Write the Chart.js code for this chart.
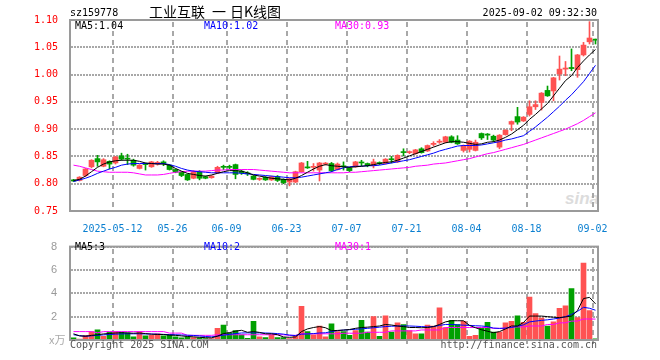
<!DOCTYPE html>
<html>
<head>
<meta charset="utf-8">
<script src="https://cdn.jsdelivr.net/npm/chart.js@4.4.0/dist/chart.umd.min.js"></script>
<style>
  body { margin: 0; background: #fff; }
  #wrap { position: relative; width: 660px; height: 360px; overflow: hidden;
          font-family: 'DejaVu Sans Mono', monospace; font-size: 10px; }
  .t { position: absolute; white-space: pre; line-height: 10px; z-index: 2; }
  .cjk { font-family: 'Noto Sans CJK SC'; font-size: 14px; line-height: 14px; }
  canvas { position: absolute; left: 0; z-index: 1; }
  #logo { position: absolute; left: 565px; top: 189px; z-index: 0; color: #dcdcdc;
          font: italic bold 17px 'Liberation Sans'; }
</style>
</head>
<body>
<div id="wrap">
  <div id="logo">sina</div>

  <div class="t" style="left:70px;top:8px">sz159778</div>
  <div class="t cjk" style="left:149px;top:4px">工业互联</div>
  <div class="t cjk" style="left:212px;top:4px">一</div>
  <div class="t cjk" style="left:230px;top:4px">日K线图</div>
  <div class="t" style="right:63px;top:8px">2025-09-02 09:32:30</div>

  <div class="t" style="left:75px;top:21px">MA5:1.04</div>
  <div class="t" style="left:204px;top:21px;color:#0000ff">MA10:1.02</div>
  <div class="t" style="left:335px;top:21px;color:#ff00ff">MA30:0.93</div>

  <div class="t" style="left:75px;top:242px">MA5:3</div>
  <div class="t" style="left:204px;top:242px;color:#0000ff">MA10:2</div>
  <div class="t" style="left:335px;top:242px;color:#ff00ff">MA30:1</div>

  <div class="t" style="left:49px;top:333px;color:#aaa;font:11px 'Noto Sans CJK SC';line-height:13px">x万</div>
  <div class="t" style="left:70px;top:340px;color:#555">Copyright 2025 SINA.COM</div>
  <div class="t" style="right:63px;top:340px;color:#555">http://finance.sina.com.cn</div>

  <canvas id="kline" width="660" height="235" style="top:0"></canvas>
  <canvas id="volume" width="660" height="125" style="top:235px"></canvas>
</div>

<script>
const tradeDates = [
  '2025-04-28','2025-04-29','2025-04-30','2025-05-06','2025-05-07','2025-05-08','2025-05-09','2025-05-12','2025-05-13','2025-05-14',
  '2025-05-15','2025-05-16','2025-05-19','2025-05-20','2025-05-21','2025-05-22','2025-05-23','2025-05-26','2025-05-27','2025-05-28',
  '2025-05-29','2025-05-30','2025-06-03','2025-06-04','2025-06-05','2025-06-06','2025-06-09','2025-06-10','2025-06-11','2025-06-12',
  '2025-06-13','2025-06-16','2025-06-17','2025-06-18','2025-06-19','2025-06-20','2025-06-23','2025-06-24','2025-06-25','2025-06-26',
  '2025-06-27','2025-06-30','2025-07-01','2025-07-02','2025-07-03','2025-07-04','2025-07-07','2025-07-08','2025-07-09','2025-07-10',
  '2025-07-11','2025-07-14','2025-07-15','2025-07-16','2025-07-17','2025-07-18','2025-07-21','2025-07-22','2025-07-23','2025-07-24',
  '2025-07-25','2025-07-28','2025-07-29','2025-07-30','2025-07-31','2025-08-01','2025-08-04','2025-08-05','2025-08-06','2025-08-07',
  '2025-08-08','2025-08-11','2025-08-12','2025-08-13','2025-08-14','2025-08-15','2025-08-18','2025-08-19','2025-08-20','2025-08-21',
  '2025-08-22','2025-08-25','2025-08-26','2025-08-27','2025-08-28','2025-08-29','2025-09-01','2025-09-02'
];

const tickDates = ['2025-05-12','2025-05-26','2025-06-09','2025-06-23','2025-07-07','2025-07-21','2025-08-04','2025-08-18','2025-09-02'];
const tickLabels = ['2025-05-12','05-26','06-09','06-23','07-07','07-21','08-04','08-18','09-02'];

const opens = [
  0.807,0.806,0.815,0.831,0.846,0.832,0.841,0.838,0.851,0.846,
  0.843,0.828,0.837,0.831,0.836,0.840,0.834,0.826,0.821,0.817,
  0.810,0.822,0.813,0.811,0.820,0.831,0.831,0.835,0.823,0.819,
  0.814,0.808,0.812,0.807,0.813,0.808,0.803,0.803,0.822,0.830,
  0.830,0.825,0.836,0.837,0.826,0.832,0.829,0.831,0.839,0.837,
  0.833,0.838,0.837,0.845,0.840,0.858,0.857,0.855,0.864,0.860,
  0.872,0.876,0.876,0.886,0.880,0.861,0.863,0.861,0.892,0.891,
  0.887,0.867,0.890,0.909,0.923,0.915,0.927,0.941,0.949,0.971,
  0.970,1.001,1.010,1.013,1.009,1.036,1.060,1.065
];
const highs = [
  0.808,0.813,0.828,0.844,0.852,0.846,0.842,0.850,0.856,0.854,
  0.845,0.835,0.838,0.841,0.841,0.842,0.835,0.827,0.822,0.818,
  0.824,0.824,0.814,0.815,0.832,0.834,0.834,0.836,0.825,0.822,
  0.815,0.811,0.813,0.814,0.815,0.809,0.810,0.823,0.839,0.841,
  0.837,0.839,0.839,0.839,0.838,0.840,0.830,0.841,0.843,0.838,
  0.845,0.840,0.846,0.850,0.853,0.864,0.860,0.863,0.866,0.871,
  0.877,0.881,0.887,0.888,0.888,0.871,0.879,0.880,0.893,0.892,
  0.889,0.890,0.899,0.915,0.940,0.923,0.952,0.952,0.967,0.979,
  0.995,1.034,1.024,1.047,1.037,1.059,1.097,1.065
];
const lows = [
  0.804,0.805,0.813,0.829,0.832,0.831,0.827,0.836,0.843,0.835,
  0.832,0.827,0.825,0.830,0.834,0.833,0.825,0.820,0.813,0.806,
  0.809,0.807,0.809,0.810,0.819,0.826,0.827,0.809,0.817,0.815,
  0.807,0.806,0.806,0.806,0.804,0.800,0.796,0.802,0.821,0.828,
  0.823,0.805,0.834,0.822,0.825,0.825,0.822,0.830,0.833,0.831,
  0.829,0.835,0.836,0.838,0.839,0.851,0.855,0.854,0.856,0.859,
  0.869,0.874,0.875,0.875,0.872,0.858,0.858,0.860,0.881,0.881,
  0.877,0.864,0.889,0.897,0.909,0.914,0.924,0.936,0.935,0.960,
  0.952,0.990,0.998,1.007,0.995,1.034,1.056,1.056
];
const closes = [
  0.805,0.812,0.827,0.843,0.840,0.844,0.836,0.849,0.845,0.845,
  0.834,0.834,0.835,0.840,0.839,0.837,0.826,0.821,0.815,0.807,
  0.822,0.810,0.810,0.814,0.830,0.830,0.830,0.817,0.820,0.818,
  0.808,0.809,0.807,0.813,0.806,0.802,0.809,0.822,0.838,0.829,
  0.831,0.838,0.837,0.824,0.836,0.831,0.824,0.840,0.838,0.833,
  0.840,0.837,0.845,0.844,0.852,0.857,0.858,0.862,0.857,0.870,
  0.874,0.878,0.886,0.876,0.873,0.870,0.878,0.876,0.884,0.889,
  0.880,0.889,0.898,0.914,0.913,0.922,0.941,0.945,0.966,0.961,
  0.994,1.010,1.012,1.011,1.036,1.054,1.067,1.063
];

const ma5 = [
  0.806,0.808,0.814,0.822,0.830,0.836,0.840,0.842,0.843,0.843,
  0.843,0.841,0.838,0.837,0.836,0.836,0.834,0.828,0.823,0.819,
  0.817,0.815,0.814,0.816,0.819,0.822,0.824,0.824,0.823,0.820,
  0.816,0.814,0.812,0.810,0.809,0.808,0.807,0.810,0.815,0.821,
  0.827,0.832,0.835,0.833,0.832,0.831,0.830,0.831,0.832,0.833,
  0.835,0.837,0.839,0.840,0.843,0.847,0.851,0.855,0.859,0.863,
  0.867,0.871,0.875,0.877,0.877,0.876,0.874,0.872,0.873,0.876,
  0.877,0.880,0.885,0.891,0.899,0.907,0.918,0.927,0.937,0.947,
  0.961,0.975,0.989,0.998,1.013,1.025,1.036,1.046
];
const ma10 = [
  0.804,0.807,0.810,0.814,0.819,0.823,0.827,0.830,0.834,0.836,
  0.837,0.837,0.837,0.837,0.837,0.837,0.835,0.832,0.828,0.825,
  0.823,0.822,0.821,0.820,0.820,0.820,0.820,0.820,0.819,0.818,
  0.817,0.816,0.815,0.814,0.813,0.812,0.811,0.811,0.812,0.814,
  0.816,0.818,0.820,0.822,0.826,0.829,0.831,0.832,0.832,0.833,
  0.833,0.834,0.836,0.838,0.840,0.842,0.844,0.847,0.850,0.853,
  0.856,0.860,0.863,0.866,0.869,0.870,0.870,0.870,0.871,0.873,
  0.875,0.877,0.880,0.882,0.885,0.888,0.896,0.904,0.913,0.922,
  0.932,0.942,0.953,0.963,0.975,0.987,1.002,1.017
];
const ma30 = [
  0.834,0.832,0.829,0.826,0.823,0.822,0.821,0.821,0.821,0.821,
  0.820,0.818,0.816,0.816,0.816,0.817,0.819,0.821,0.822,0.823,
  0.823,0.823,0.823,0.824,0.825,0.825,0.826,0.826,0.826,0.826,
  0.826,0.825,0.824,0.823,0.822,0.821,0.820,0.820,0.820,0.820,
  0.820,0.820,0.820,0.820,0.820,0.820,0.821,0.821,0.822,0.823,
  0.824,0.825,0.826,0.827,0.828,0.829,0.830,0.832,0.833,0.834,
  0.836,0.837,0.838,0.840,0.842,0.844,0.846,0.849,0.852,0.855,
  0.857,0.860,0.863,0.866,0.869,0.872,0.876,0.880,0.884,0.888,
  0.892,0.896,0.900,0.905,0.910,0.916,0.923,0.930
];

// volume, x万
const volumes = [
  0.19,0.08,0.40,0.72,0.88,0.32,0.67,0.72,0.67,0.61,
  0.27,0.72,0.35,0.40,0.53,0.35,0.45,0.27,0.19,0.27,
  0.21,0.19,0.13,0.13,0.99,1.28,0.61,0.80,0.45,0.15,
  1.60,0.27,0.20,0.45,0.20,0.20,0.12,0.35,2.88,0.72,
  0.45,1.20,0.27,1.39,0.72,0.72,0.40,0.80,1.68,0.67,
  2.00,0.32,2.08,0.67,1.47,1.33,0.80,0.53,0.53,1.28,
  1.20,2.75,1.07,1.68,1.33,1.60,0.32,0.40,0.99,1.52,
  0.67,0.67,1.47,1.60,2.08,1.52,3.68,2.27,1.87,1.20,
  1.55,2.72,2.93,4.40,1.92,6.59,2.53,0.10
];
const volMa5 = [
  0.53,0.35,0.32,0.40,0.45,0.52,0.56,0.60,0.62,0.60,
  0.58,0.60,0.55,0.50,0.48,0.47,0.42,0.40,0.35,0.30,
  0.27,0.23,0.20,0.18,0.33,0.55,0.63,0.76,0.83,0.66,
  0.72,0.65,0.53,0.53,0.45,0.26,0.23,0.26,0.72,0.95,
  1.07,1.15,1.05,0.80,0.82,0.85,0.90,1.00,1.07,1.10,
  1.15,1.20,1.33,1.28,1.20,1.15,1.07,1.07,1.05,1.07,
  1.15,1.33,1.55,1.65,1.65,1.65,1.25,1.05,0.88,0.75,
  0.62,0.72,0.95,1.20,1.20,1.50,2.05,2.05,2.05,2.00,
  1.95,1.92,1.98,2.05,2.53,3.55,3.65,3.10
];
const volMa10 = [
  0.45,0.38,0.32,0.36,0.40,0.44,0.47,0.50,0.52,0.53,
  0.53,0.53,0.52,0.51,0.50,0.48,0.46,0.45,0.43,0.41,
  0.39,0.35,0.30,0.27,0.33,0.42,0.48,0.55,0.60,0.61,
  0.61,0.61,0.60,0.58,0.55,0.50,0.42,0.38,0.50,0.52,
  0.55,0.60,0.62,0.72,0.80,0.85,0.88,0.92,0.95,1.00,
  1.05,1.10,1.15,1.18,1.20,1.20,1.20,1.18,1.15,1.12,
  1.15,1.25,1.33,1.33,1.30,1.27,1.25,1.22,1.20,1.15,
  1.02,0.99,1.02,1.07,1.18,1.30,1.55,1.62,1.68,1.73,
  1.80,1.88,2.00,2.20,2.45,2.80,2.72,2.55
];
const volMa30 = [
  0.72,0.72,0.72,0.72,0.62,0.72,0.72,0.72,0.72,0.72,
  0.72,0.72,0.72,0.72,0.72,0.72,0.59,0.59,0.59,0.40,
  0.40,0.40,0.40,0.40,0.45,0.45,0.45,0.45,0.45,0.45,
  0.45,0.45,0.45,0.45,0.45,0.45,0.40,0.40,0.53,0.53,
  0.53,0.53,0.53,0.53,0.53,0.58,0.58,0.58,0.58,0.66,
  0.66,0.66,0.66,0.78,0.78,0.78,0.78,0.78,0.86,0.86,
  0.86,0.86,1.07,1.07,1.07,1.07,1.07,1.07,1.07,1.07,
  1.00,1.00,1.00,1.12,1.12,1.12,1.20,1.20,1.20,1.33,
  1.33,1.47,1.47,1.62,1.62,1.80,1.80,1.79
];

const UP = '#ff5252';
const DOWN = '#00a000';
const MONO = 'DejaVu Sans Mono';
const DASH = '#a8a8a8';
const DOT = '#a8a8a8';

const candleColors = closes.map((c, i) => c >= opens[i] ? UP : DOWN);
const tickIdx = tickDates.map(d => tradeDates.indexOf(d));
const pts = (arr) => arr.map((v, i) => ({x: i, y: v}));

// one slot = 6px, shifted so 1px wicks land on whole pixels
const X_MIN = -0.5 - 0.5 / 6;
const X_MAX = tradeDates.length - 0.5 - 0.5 / 6;

// dotted horizontals / dashed verticals at the scales' own ticks
const gridLines = {
  id: 'gridLines',
  beforeDatasetsDraw(chart) {
    const {ctx, chartArea: a, scales} = chart;
    ctx.save();
    ctx.fillStyle = DOT;
    scales.y.ticks.forEach(t => {
      const y = Math.round(scales.y.getPixelForValue(t.value)) - 1;
      for (let x = Math.ceil(a.left) + 1; x < a.right; x += 3) ctx.fillRect(x, y, 2, 2);
    });
    ctx.fillStyle = DASH;
    scales.x.ticks.forEach(t => {
      const x = Math.floor(scales.x.getPixelForValue(t.value));
      for (let y = Math.ceil(a.top) + 2; y < a.bottom; y += 9) ctx.fillRect(x, y, 2, 5);
    });
    ctx.restore();
  }
};

const frame = {
  id: 'frame',
  afterDraw(chart) {
    const {ctx, chartArea: a} = chart;
    ctx.save();
    ctx.strokeStyle = '#9a9a9a';
    ctx.lineWidth = 2;
    ctx.strokeRect(a.left, a.top, a.right - a.left, a.bottom - a.top);
    ctx.restore();
  }
};

function maLine(values, color) {
  return {
    type: 'line',
    data: pts(values),
    borderColor: color,
    borderWidth: 1,
    pointRadius: 0,
    tension: 0,
    order: 0
  };
}

function xScale(showLabels) {
  return {
    type: 'linear',
    min: X_MIN,
    max: X_MAX,
    offset: false,
    afterBuildTicks: (scale) => {
      scale.ticks = tickIdx.map(i => ({value: i - 0.5}));
    },
    afterFit: (scale) => { scale.height = showLabels ? 24 : 0; },
    grid: {display: false, offset: false},
    border: {display: false},
    ticks: {
      display: showLabels,
      autoSkip: false,
      maxRotation: 0,
      padding: 4,
      color: '#0a7fd0',
      font: {family: MONO, size: 10},
      callback: (value, index) => tickLabels[index]
    }
  };
}

new Chart(document.getElementById('kline'), {
  type: 'bar',
  data: {
    datasets: [
      maLine(ma5, '#000000'),
      maLine(ma10, '#0000ff'),
      maLine(ma30, '#ff00ff'),
      {
        label: 'body',
        data: opens.map((o, i) => ({x: i, y: [o, closes[i]]})),
        backgroundColor: candleColors,
        barThickness: 5,
        minBarLength: 1,
        grouped: false,
        order: 1
      },
      {
        label: 'wick',
        data: lows.map((l, i) => ({x: i, y: [l, highs[i]]})),
        backgroundColor: candleColors,
        barThickness: 1,
        grouped: false,
        order: 2
      }
    ]
  },
  options: {
    responsive: false,
    animation: false,
    events: [],
    layout: {padding: {left: 0, right: 62, top: 20, bottom: 0}},
    plugins: {legend: {display: false}, tooltip: {enabled: false}},
    scales: {
      x: xScale(true),
      y: {
        min: 0.75,
        max: 1.10,
        afterFit: (scale) => { scale.width = 70; },
        grid: {display: false},
        border: {display: false},
        ticks: {
          stepSize: 0.05,
          padding: 4,
          color: '#ff0000',
          font: {family: MONO, size: 10},
          callback: (v) => v.toFixed(2)
        }
      }
    }
  },
  plugins: [gridLines, frame]
});

new Chart(document.getElementById('volume'), {
  type: 'bar',
  data: {
    datasets: [
      maLine(volMa5, '#000000'),
      maLine(volMa10, '#0000ff'),
      maLine(volMa30, '#ff00ff'),
      {
        label: 'volume',
        data: pts(volumes),
        backgroundColor: candleColors,
        barThickness: 5,
        grouped: false,
        order: 1
      }
    ]
  },
  options: {
    responsive: false,
    animation: false,
    events: [],
    layout: {padding: {left: 0, right: 62, top: 6, bottom: 20}},
    plugins: {legend: {display: false}, tooltip: {enabled: false}},
    scales: {
      x: xScale(false),
      y: {
        min: 0,
        max: 8,
        afterFit: (scale) => { scale.width = 70; },
        grid: {display: false},
        border: {display: false},
        ticks: {
          stepSize: 2,
          padding: 5,
          color: '#999999',
          font: {family: 'Liberation Sans', size: 11},
          callback: (v) => v === 0 ? '' : v
        }
      }
    }
  },
  plugins: [gridLines, frame]
});
</script>
</body>
</html>
